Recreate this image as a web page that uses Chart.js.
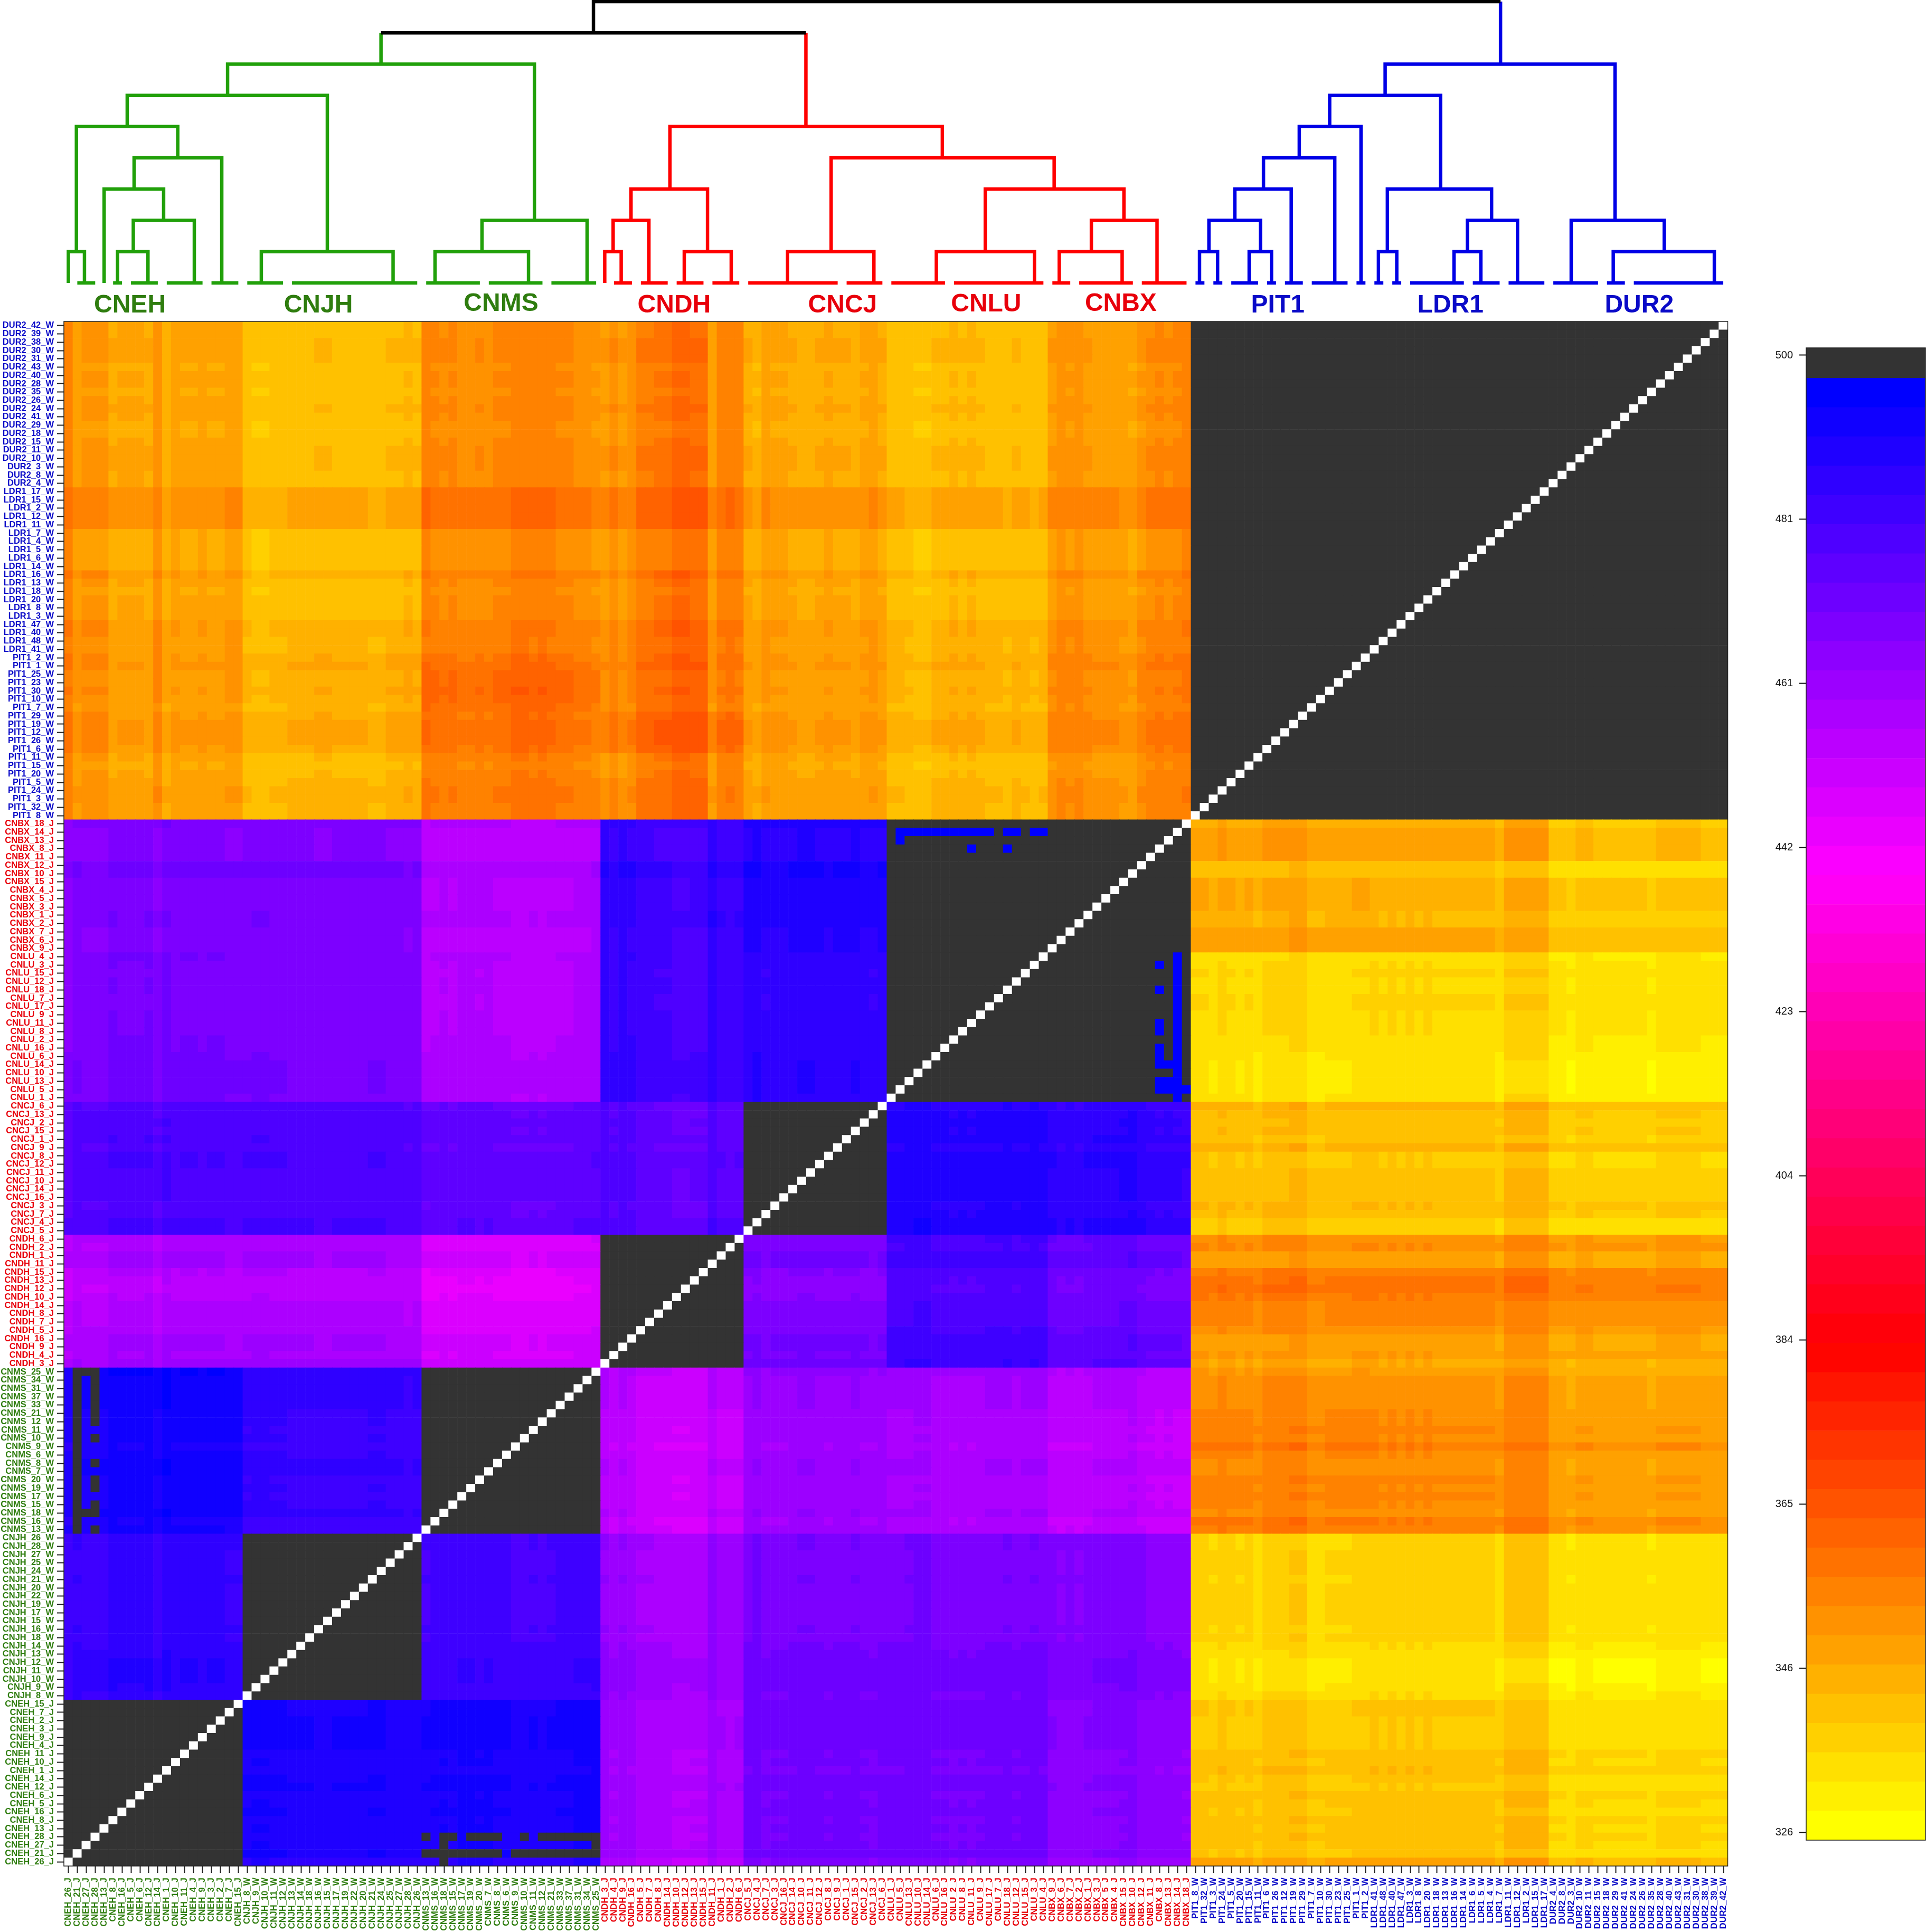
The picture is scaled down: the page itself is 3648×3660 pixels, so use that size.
<!DOCTYPE html>
<html>
<head>
<meta charset="utf-8">
<title>Heatmap</title>
<script src="https://cdn.jsdelivr.net/npm/chart.js@4"></script>
<style>
html, body { margin: 0; padding: 0; background: #fff; width: 3648px; height: 3660px; overflow: hidden; }
canvas { position: absolute; }
</style>
</head>
<body>
<canvas id="heatChart" style="left:0;top:0"></canvas>
<canvas id="treeChart" style="left:0;top:0"></canvas>
<canvas id="barChart" style="left:3300px;top:0"></canvas>
<script>
// groups, left to right on x and bottom to top on y
var groupNames = ['CNEH', 'CNJH', 'CNMS', 'CNDH', 'CNCJ', 'CNLU', 'CNBX', 'PIT1', 'LDR1', 'DUR2'];
var groupSuffix = ['J', 'W', 'W', 'J', 'J', 'J', 'J', 'W', 'W', 'W'];
var groupColors = ['#2f7d0f', '#2f7d0f', '#2f7d0f', '#e8000b', '#e8000b', '#e8000b', '#e8000b', '#0a0ac8', '#0a0ac8', '#0a0ac8'];

var idsCNEH = [26, 21, 27, 28, 13, 8, 16, 5, 6, 12, 14, 1, 10, 11, 4, 9, 3, 2, 7, 15];
var idsCNJH = [8, 9, 10, 11, 12, 13, 14, 18, 16, 15, 17, 19, 22, 20, 21, 24, 25, 27, 28, 26];
var idsCNMS = [13, 16, 18, 15, 17, 19, 20, 7, 8, 6, 9, 10, 11, 12, 21, 33, 37, 31, 34, 25];
var idsCNDH = [3, 4, 9, 16, 5, 7, 8, 14, 10, 12, 13, 15, 11, 1, 2, 6];
var idsCNCJ = [5, 4, 7, 3, 16, 14, 10, 11, 12, 8, 9, 1, 15, 2, 13, 6];
var idsCNLU = [1, 5, 13, 10, 14, 6, 16, 2, 8, 11, 9, 17, 7, 18, 12, 15, 3, 4];
var idsCNBX = [9, 6, 7, 2, 1, 3, 5, 4, 15, 10, 12, 11, 8, 13, 14, 18];
var idsPIT1 = [8, 32, 3, 24, 5, 20, 15, 11, 6, 26, 12, 19, 29, 7, 10, 30, 23, 25, 1, 2];
var idsLDR1 = [41, 48, 40, 47, 3, 8, 20, 18, 13, 16, 14, 6, 5, 4, 7, 11, 12, 2, 15, 17];
var idsDUR2 = [4, 8, 3, 10, 11, 15, 18, 29, 41, 24, 26, 35, 28, 40, 43, 31, 30, 38, 39, 42];

// estimated cell level of each row group (outer) against each column group (inner), 510 = above the scale
var blockCNEH = [510, 490, 491, 460, 471, 470, 466, 339, 340, 335];
var blockCNJH = [484, 510, 481, 461, 469, 468, 467, 337, 338, 334];
var blockCNMS = [493, 485, 510, 455, 463, 459, 456, 351, 350, 346];
var blockCNDH = [459, 459, 450, 510, 470, 481, 475, 349, 349, 347];
var blockCNCJ = [479, 479, 475, 477, 510, 487, 486, 341, 341, 338];
var blockCNLU = [469, 468, 456, 483, 485, 510, 510, 335, 336, 333];
var blockCNBX = [468, 468, 456, 484, 488, 510, 510, 346, 345, 340];
var blockPIT1 = [348, 343, 355, 353, 347, 344, 351, 510, 510, 510];
var blockLDR1 = [348, 342, 353, 353, 347, 344, 350, 510, 510, 510];
var blockDUR2 = [347, 341, 352, 352, 345, 343, 349, 510, 510, 510];

// stripes read by eye per row, listed from the top row of the group down
var rowCNEH = [0, 0, -1, -1, -1, -1, 2, 1, 3, 0, -1, 2, 1, 0, 2, 1, 2, 1, 0, 8];
var rowCNJH = [-1, -1, 0, 0, 0, -1, 0, 0, 0, 0, 0, -1, 0, -2, -3, -5, -5, -5, -4, -2];
var rowCNMS = [-1, 1, 1, 1, 1, 3, 3, 4, 3, 7, 3, 1, 1, 4, 3, 4, 3, 1, 7, 5];
var rowCNDH = [3, 4, -1, -1, 7, 9, 10, 8, 5, 5, 5, 3, -1, -1, 1, -3];
var rowCNCJ = [3, 1, 0, 1, -1, 3, -2, -2, 0, 0, 0, 0, 2, 1, -3, -3];
var rowCNLU = [-1, 0, 1, 0, 0, 1, 1, 0, 0, 0, -1, -1, -2, -3, -3, -3, -3, -2];
var rowCNBX = [-1, 3, 3, 3, 3, -5, -5, 0, 0, 0, 0, -2, -2, 2, 2, 2];
var rowPIT1 = [2, 3, 1, 1, 2, 1, 0, 2, 3, 3, 3, 2, -1, -2, -1, 0, 1, 1, 0, 0];
var rowLDR1 = [4, 4, 4, 4, 4, -2, -2, -2, -2, -2, 2, -1, -2, -1, -1, -1, 2, 2, 1, 1];
var rowDUR2 = [0, 0, 1, 1, 1, -1, 0, 0, -1, 0, 1, 0, -1, -1, 0, 1, 1, 1, 0, 0];

// stripes read by eye per column, left to right
var colCNEH = [7, 1, 3, 3, 3, -2, -1, -1, -1, -2, 4, -3, 0, -1, -1, 0, -1, -1, 1, 1];
var colCNJH = [-1, -2, -2, -1, -1, 0, 0, 0, 1, 1, 0, 0, 0, 0, -1, -1, 1, 1, 2, 1];
var colCNMS = [2, 1, 0, 1, -1, -1, 0, -1, 1, 1, 3, 3, 2, 3, 2, 1, 1, -1, -1, -2];
var colCNDH = [-3, 0, -3, -1, 4, 4, 5, 5, 8, 8, 7, 7, -4, 2, 3, 2];
var colCNCJ = [0, -2, 2, 1, 1, 0, -1, -1, 0, 1, 0, 0, -1, 1, 2, 0];
var colCNLU = [-2, -2, -3, -4, -4, -1, -1, 0, -1, 0, -1, -2, -2, -3, -1, -2, -3, -2];
var colCNBX = [0, 2, 1, 2, 0, -1, -1, -1, -2, -3, 1, 3, 4, 3, 4, 5];
var colPIT1 = [0, 0, -1, 1, 0, -1, 0, -2, 1, 1, 1, 2, 2, -2, -2, -1, -1, -1, 0, 0];
var colLDR1 = [0, -1, 0, -1, 0, -1, 0, -1, -1, -1, -1, -1, -1, -1, -3, 2, 2, 2, 2, 2];
var colDUR2 = [-1, -1, -2, 0, 0, -1, -1, -1, -1, -1, -1, -2, 0, 0, 0, 0, 0, -1, -1, -1];

// warmer patches seen in the top left part: first row, last row, first column, last column, change
var warmPatches = [[139, 143, 40, 59, 3], [161, 165, 40, 59, 1], [134, 138, 60, 75, 2]];

// single cells that cross the top of the scale, as [row from bottom, column]
var overCNMSbyCNEH = [[59, 1], [59, 2], [59, 3], [58, 1], [58, 3], [57, 1], [57, 3], [56, 1], [56, 3], [55, 1], [55, 3], [54, 1], [54, 3], [53, 1], [53, 3],
    [52, 1], [51, 1], [51, 3], [50, 1], [49, 1], [48, 1], [48, 3], [47, 1], [46, 1], [46, 3], [45, 1], [45, 3], [44, 1], [43, 1], [43, 3],
    [42, 1], [42, 2], [42, 3], [41, 1], [40, 1], [40, 3]];
var overCNEHbyCNMS = [[3, 40], [3, 42], [3, 43], [3, 45], [3, 46], [3, 47], [3, 48], [3, 51], [3, 53], [3, 54], [3, 55], [3, 56], [3, 57], [3, 58], [3, 59],
    [2, 42], [2, 59],
    [1, 40], [1, 41], [1, 42], [1, 43], [1, 44], [1, 45], [1, 46], [1, 47], [1, 48], [1, 50], [1, 51], [1, 52], [1, 53], [1, 54], [1, 55], [1, 56], [1, 57], [1, 58], [1, 59],
    [0, 42]];
// single cells that stay on the scale inside the grey CNLU/CNBX block
var blueCNBXbyCNLU = [[124, 93], [124, 94], [124, 95], [124, 96], [124, 97], [124, 98], [124, 99], [124, 100], [124, 101], [124, 102], [124, 103],
    [124, 105], [124, 106], [124, 108], [124, 109], [123, 93], [122, 101], [122, 105]];
var blueCNLUbyCNBX = [[109, 124], [108, 124], [107, 124], [106, 124], [105, 124], [104, 124], [103, 124], [102, 124], [101, 124], [100, 124], [99, 124], [98, 124],
    [97, 124], [96, 124], [95, 124], [94, 124], [93, 124], [92, 124],
    [108, 122], [105, 122], [101, 122], [100, 122], [98, 122], [97, 122], [96, 122], [96, 123], [94, 122], [94, 123], [93, 122], [93, 123], [93, 125]];

// colour bar
var barTicks = [326, 345.33, 364.67, 384, 403.33, 422.67, 442, 461.33, 480.67, 500];
var barTickLabels = ['326', '346', '365', '384', '404', '423', '442', '461', '481', '500'];
var barMin = 325.1;
var barMax = 500.87;
var barTop = 497.3;
var barLevels = 50;

// dendrogram: merges in leaf positions and tree levels
var mergeLeft = [0.5, 6.0, 7.76, 4.5, 7.85, 1.4, 22.07, 7.08, 41.49, 46.74, 18.3,
    60.46, 61.4, 69.35, 63.4, 80.9, 97.53, 111.27, 114.86, 103, 85.77, 67.75,
    126.95, 132.5, 128, 130.9, 134.1, 138.1, 146.95, 155.4, 156.9, 147.95, 141.5, 173.2, 168.5, 147.7,
    35.45, 59.2];
var mergeRight = [2.3, 9.4, 14.58, 11.15, 17.65, 12.73, 36.8, 29.45, 51.94, 58.49, 52.6,
    62.3, 65.4, 74.6, 71.95, 90.55, 108.5, 118.3, 122.2, 118.5, 110.7, 98.2,
    128.97, 135, 133.77, 137.2, 142.07, 145, 149, 158.4, 162.5, 159.6, 153.9, 184.5, 178.9, 173.4,
    82.95, 160.6];
var mergeLevel = [1, 1, 2, 3, 4, 5, 1, 6, 1, 2, 7,
    1, 2, 1, 3, 1, 1, 1, 2, 3, 4, 5,
    1, 1, 2, 3, 4, 5, 1, 1, 2, 3, 6, 1, 2, 7,
    8, 9];
var mergeLeftFrom = [0, 0, 1, 0, 3, 1, 0, 5, 0, 1, 6,
    0, 1, 0, 2, 0, 0, 0, 1, 1, 1, 3,
    0, 0, 1, 2, 3, 4, 0, 0, 1, 1, 5, 0, 0, 6,
    8, 8];
var mergeRightFrom = [0, 0, 0, 2, 0, 4, 0, 1, 0, 0, 2,
    0, 0, 0, 1, 0, 0, 0, 0, 2, 3, 4,
    0, 0, 1, 0, 0, 0, 0, 0, 0, 2, 3, 0, 1, 2,
    8, 9];
var mergeTree = [0, 0, 0, 0, 0, 0, 0, 0, 0, 0, 0,
    1, 1, 1, 1, 1, 1, 1, 1, 1, 1, 1,
    2, 2, 2, 2, 2, 2, 2, 2, 2, 2, 2, 2, 2, 2,
    3, 3];
var stemX = [35.45, 82.95, 160.6];
var stemFrom = [7, 5, 7];
var stemTo = [8, 8, 9];
var leafStart = [1.5, 5.5, 7.5, 11.5, 16.5, 20.5, 25.5, 40.5, 47.5, 54.5,
    61.5, 64.5, 68.5, 72.5, 76.5, 87.5, 92.5, 99.5, 110.5, 113.5, 120.5,
    126.5, 128.5, 130.5, 134.5, 136.5, 139.5, 144.5, 146.5, 148.5, 150.5, 157.5, 161.5, 166.5, 172.5, 175.5];
var leafEnd = [3.5, 6.5, 10.5, 15.5, 19.5, 24.5, 39.5, 46.5, 53.5, 59.5,
    63.5, 67.5, 71.5, 75.5, 86.5, 91.5, 98.5, 109.5, 112.5, 119.5, 125.5,
    127.5, 129.5, 133.5, 135.5, 138.5, 143.5, 145.5, 147.5, 149.5, 156.5, 160.5, 165.5, 171.5, 174.5, 185.5];
var groupLabelX = [7.38, 28.45, 48.87, 68.22, 87.05, 103.1, 118.15, 135.7, 155, 176.1];
var groupLabelY = [-0.946, -0.946, -0.895, -0.946, -0.946, -0.912, -0.895, -0.946, -0.946, -0.946];

document.addEventListener("DOMContentLoaded", function () {
    Chart.defaults.font.family = "'Liberation Sans', Arial, sans-serif";
    Chart.defaults.devicePixelRatio = 1;

    var idLists = [idsCNEH, idsCNJH, idsCNMS, idsCNDH, idsCNCJ, idsCNLU, idsCNBX, idsPIT1, idsLDR1, idsDUR2];
    var blocks = [blockCNEH, blockCNJH, blockCNMS, blockCNDH, blockCNCJ, blockCNLU, blockCNBX, blockPIT1, blockLDR1, blockDUR2];
    var rowLists = [rowCNEH, rowCNJH, rowCNMS, rowCNDH, rowCNCJ, rowCNLU, rowCNBX, rowPIT1, rowLDR1, rowDUR2];
    var colLists = [colCNEH, colCNJH, colCNMS, colCNDH, colCNCJ, colCNLU, colCNBX, colPIT1, colLDR1, colDUR2];

    var labels = [], labelColors = [], sampleGroup = [], rowShift = [], colShift = [];
    idLists.forEach(function (ids, g) {
        var rows = rowLists[g].slice().reverse();
        ids.forEach(function (id, k) {
            labels.push(groupNames[g] + '_' + id + '_' + groupSuffix[g]);
            labelColors.push(groupColors[g]);
            sampleGroup.push(g);
            rowShift.push(rows[k]);
            colShift.push(colLists[g][k]);
        });
    });
    var n = labels.length;

    var overrides = {};
    overCNMSbyCNEH.concat(overCNEHbyCNMS).forEach(function (c) { overrides[c[0] + ',' + c[1]] = 510; });
    blueCNBXbyCNLU.concat(blueCNLUbyCNBX).forEach(function (c) { overrides[c[0] + ',' + c[1]] = 495; });

    function cellValue(r, c) {
        if (r === c) return null;
        if (overrides[r + ',' + c] !== undefined) return overrides[r + ',' + c];
        var gr = sampleGroup[r], gc = sampleGroup[c];
        var base = blocks[gr][gc];
        if (base === 510) return 510;
        // the stripes run the other way round inside the blue and purple part
        var sign = (gr < 7 && gc < 7) ? -0.5 : 1;
        var v = base + sign * rowShift[r] + sign * colShift[c];
        warmPatches.forEach(function (p) {
            if (r >= p[0] && r <= p[1] && c >= p[2] && c <= p[3]) v += p[4];
        });
        return v;
    }

    function mix(a, b, t) {
        return Math.round(a + (b - a) * t);
    }

    function rampColor(t) {
        var stops = [[255, 255, 0], [255, 0, 0], [255, 0, 255], [0, 0, 255]];
        var p = t * 3, i = Math.min(2, Math.floor(p)), f = p - i;
        return 'rgb(' + mix(stops[i][0], stops[i + 1][0], f) + ',' + mix(stops[i][1], stops[i + 1][1], f) + ',' + mix(stops[i][2], stops[i + 1][2], f) + ')';
    }

    function colorOf(v) {
        if (v === null) return '#ffffff';
        if (v > barTop) return '#333333';
        var bin = Math.floor((v - barMin) / (barTop - barMin) * barLevels);
        bin = Math.max(0, Math.min(barLevels - 1, bin));
        return rampColor(bin / (barLevels - 1));
    }

    var framePlugin = {
        id: 'frame',
        afterDatasetsDraw: function (chart) {
            var a = chart.chartArea, ctx = chart.ctx;
            ctx.save();
            ctx.strokeStyle = '#222';
            ctx.lineWidth = 1.5;
            ctx.strokeRect(a.left, a.top, a.right - a.left, a.bottom - a.top);
            ctx.restore();
        }
    };

    // heatmap, one stacked dataset per row
    var rowSets = [];
    for (var r = 0; r < n; r++) {
        var fills = [], ones = [];
        for (var c = 0; c < n; c++) {
            fills.push(colorOf(cellValue(r, c)));
            ones.push(1);
        }
        rowSets.push({ data: ones, backgroundColor: fills, borderWidth: 0, barPercentage: 1, categoryPercentage: 1 });
    }

    var heatCanvas = document.getElementById('heatChart');
    heatCanvas.width = 3648;
    heatCanvas.height = 3660;
    new Chart(heatCanvas.getContext('2d'), {
        type: 'bar',
        data: { labels: labels, datasets: rowSets },
        plugins: [framePlugin],
        options: {
            responsive: false,
            animation: false,
            events: [],
            layout: { padding: { top: 609, right: 375.5, left: 0, bottom: 0 } },
            plugins: { legend: { display: false }, tooltip: { enabled: false } },
            scales: {
                x: {
                    stacked: true,
                    afterFit: function (scale) { scale.height = 125; },
                    border: { display: false },
                    grid: { offset: false, drawOnChartArea: false, tickLength: 13, tickWidth: 2, tickColor: '#222' },
                    ticks: {
                        autoSkip: false, minRotation: 90, maxRotation: 90, padding: 9,
                        font: { size: 16.5, weight: 'bold' },
                        color: function (ctx) { return labelColors[ctx.index]; }
                    }
                },
                y: {
                    stacked: true,
                    min: 0,
                    max: n,
                    afterBuildTicks: function (scale) {
                        scale.ticks = labels.map(function (l, i) { return { value: i + 0.5 }; });
                    },
                    afterFit: function (scale) { scale.width = 121; },
                    border: { display: false },
                    grid: { drawOnChartArea: false, tickLength: 13, tickWidth: 2, tickColor: '#222' },
                    ticks: {
                        autoSkip: false, padding: 6,
                        font: { size: 16.5, weight: 'bold' },
                        callback: function (v, i) { return labels[i]; },
                        color: function (ctx) { return labelColors[ctx.index]; }
                    }
                }
            }
        }
    });

    // dendrogram
    var treeColors = ['#21a00a', '#ff0000', '#0000e6', '#000000'];
    var treeSets = [];
    function addLine(points, color) {
        treeSets.push({
            data: points, borderColor: color, borderWidth: 6.5, pointRadius: 0, tension: 0, clip: false,
            borderCapStyle: 'butt', borderJoinStyle: 'miter'
        });
    }
    mergeLeft.forEach(function (x, i) {
        addLine([
            { x: x, y: mergeLeftFrom[i] },
            { x: x, y: mergeLevel[i] },
            { x: mergeRight[i], y: mergeLevel[i] },
            { x: mergeRight[i], y: mergeRightFrom[i] }
        ], treeColors[mergeTree[i]]);
    });
    stemX.forEach(function (x, i) {
        addLine([{ x: x, y: stemFrom[i] }, { x: x, y: stemTo[i] }], treeColors[i]);
    });
    leafStart.forEach(function (x, i) {
        addLine([{ x: x, y: 0 }, { x: leafEnd[i], y: 0 }], treeColors[x < 60 ? 0 : (x < 126 ? 1 : 2)]);
    });

    var groupLabelPlugin = {
        id: 'groupLabels',
        afterDatasetsDraw: function (chart) {
            var ctx = chart.ctx;
            ctx.save();
            ctx.font = "bold 48px 'Liberation Sans', Arial, sans-serif";
            ctx.textAlign = 'center';
            ctx.textBaseline = 'alphabetic';
            groupNames.forEach(function (name, i) {
                ctx.fillStyle = groupColors[i];
                ctx.fillText(name, chart.scales.x.getPixelForValue(groupLabelX[i]), chart.scales.y.getPixelForValue(groupLabelY[i]));
            });
            ctx.restore();
        }
    };

    var treeCanvas = document.getElementById('treeChart');
    treeCanvas.width = 3648;
    treeCanvas.height = 600;
    new Chart(treeCanvas.getContext('2d'), {
        type: 'scatter',
        data: { datasets: treeSets },
        plugins: [groupLabelPlugin],
        options: {
            responsive: false,
            animation: false,
            events: [],
            showLine: true,
            layout: { padding: { left: 121, right: 375.5, top: 0, bottom: 0 } },
            plugins: { legend: { display: false }, tooltip: { enabled: false } },
            scales: {
                x: { type: 'linear', min: 0, max: n, display: false },
                y: { type: 'linear', min: -1.081, max: 9.05, display: false }
            }
        }
    });

    // colour bar
    var bandStep = (barTop - barMin) / barLevels;
    var bandSets = [];
    for (var b = 0; b < barLevels; b++) {
        bandSets.push({
            data: [[barMin + b * bandStep, barMin + (b + 1) * bandStep]],
            backgroundColor: rampColor(b / (barLevels - 1)),
            borderWidth: 0, barPercentage: 1, categoryPercentage: 1
        });
    }
    bandSets.push({ data: [[barTop, barMax]], backgroundColor: '#333333', borderWidth: 0, barPercentage: 1, categoryPercentage: 1 });

    var barCanvas = document.getElementById('barChart');
    barCanvas.width = 348;
    barCanvas.height = 3660;
    new Chart(barCanvas.getContext('2d'), {
        type: 'bar',
        data: { labels: [''], datasets: bandSets },
        plugins: [framePlugin],
        options: {
            responsive: false,
            animation: false,
            events: [],
            layout: { padding: { top: 659, bottom: 174, right: 1, left: 0 } },
            plugins: { legend: { display: false }, tooltip: { enabled: false } },
            scales: {
                x: { stacked: true, display: false },
                y: {
                    min: barMin,
                    max: barMax,
                    afterBuildTicks: function (scale) {
                        scale.ticks = barTicks.map(function (v) { return { value: v }; });
                    },
                    afterFit: function (scale) { scale.width = 121; },
                    border: { display: false },
                    grid: { drawOnChartArea: false, tickLength: 13, tickWidth: 2, tickColor: '#111' },
                    ticks: {
                        autoSkip: false, padding: 12, color: '#111',
                        font: { size: 20 },
                        callback: function (v, i) { return barTickLabels[i]; }
                    }
                }
            }
        }
    });
});
</script>
</body>
</html>
